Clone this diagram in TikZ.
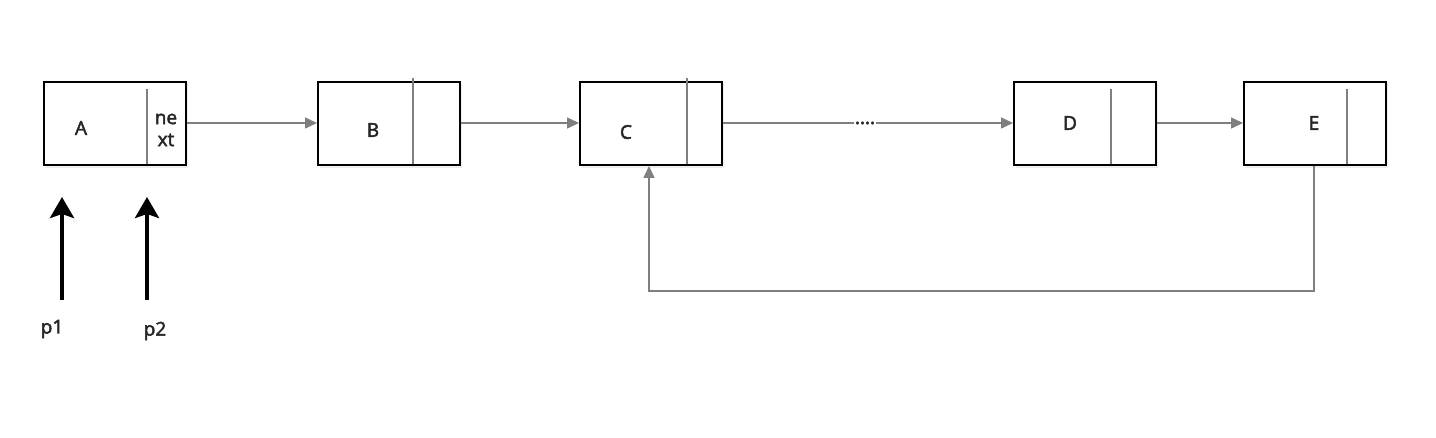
\documentclass[tikz,border=0pt]{standalone}
\usepackage{fontspec}
\setmainfont{Open Sans}
\newfontfamily\lblfont{Open Sans}[FakeBold=2.5]
\usetikzlibrary{arrows.meta}
\definecolor{lgray}{HTML}{7F7F7F}
\definecolor{shadowc}{HTML}{EEEEEE}
\tikzset{
  box/.style={draw=black, line width=2pt, fill=white, minimum width=142pt, minimum height=83pt, inner sep=0pt},
  divider/.style={draw=lgray, line width=1.5pt},
  link/.style={draw=lgray, line width=1.5pt, -{Triangle[length=12pt,width=11pt]}},
  ptr/.style={draw=black, line width=4pt, -{Stealth[length=21pt,width=24pt,inset=4pt]}},
  lbl/.style={font=\lblfont\fontsize{19pt}{21pt}\selectfont, text=black!85, inner sep=0pt},
}
\begin{document}
\begin{tikzpicture}[x=1pt,y=-1pt]
\useasboundingbox (0,0) rectangle (1436,438);
% shadows
\foreach \x in {43,317,579,1013,1243}{
  \fill[shadowc] (\x+3,84) rectangle (\x+145,168);
}
% boxes
\node[box, anchor=north west] (A) at (43,81) {};
\node[box, anchor=north west] (B) at (317,81) {};
\node[box, anchor=north west] (C) at (579,81) {};
\node[box, anchor=north west] (D) at (1013,81) {};
\node[box, anchor=north west] (E) at (1243,81) {};
% dividers
\draw[divider] (147,89) -- (147,164);
\draw[divider] (413,78) -- (413,164);
\draw[divider] (687,78) -- (687,164);
\draw[divider] (1111,89) -- (1111,164);
\draw[divider] (1347,89) -- (1347,164);
% labels
\node[lbl] (tA) at (81,128) {A};
\node[lbl, align=center, font=\lblfont\fontsize{19pt}{22pt}\selectfont] (tN) at (166,130) {ne\\xt};
\node[lbl] (tB) at (373,130) {B};
\node[lbl] (tC) at (626,132) {C};
\node[lbl] (tD) at (1070,123) {D};
\node[lbl] (tE) at (1314,123) {E};
% links
\draw[link] (A.east |- 0,123) -- (B.west |- 0,123);
\draw[link] (B.east |- 0,123) -- (C.west |- 0,123);
\node[lbl, fill=white, inner sep=1pt] (dots) at (865,123) {....};
\draw[divider] (C.east |- 0,123) -- (dots.west);
\draw[link] (dots.east) -- (D.west |- 0,123);
\draw[link] (D.east |- 0,123) -- (E.west |- 0,123);
% loop
\coordinate (e1) at (1314,291);
\coordinate (c1) at (649,291);
\draw[link] (E.south -| e1) -- (e1) -- (c1) -- (C.south -| c1);
% pointers
\coordinate (p1s) at (62,300);
\coordinate (p1e) at (62,197);
\coordinate (p2s) at (147,300);
\coordinate (p2e) at (147,197);
\draw[ptr] (p1s) -- (p1e);
\draw[ptr] (p2s) -- (p2e);
\node[lbl] (lp1) at (52,329) {p1};
\node[lbl] (lp2) at (155,331) {p2};
\end{tikzpicture}
\end{document}
